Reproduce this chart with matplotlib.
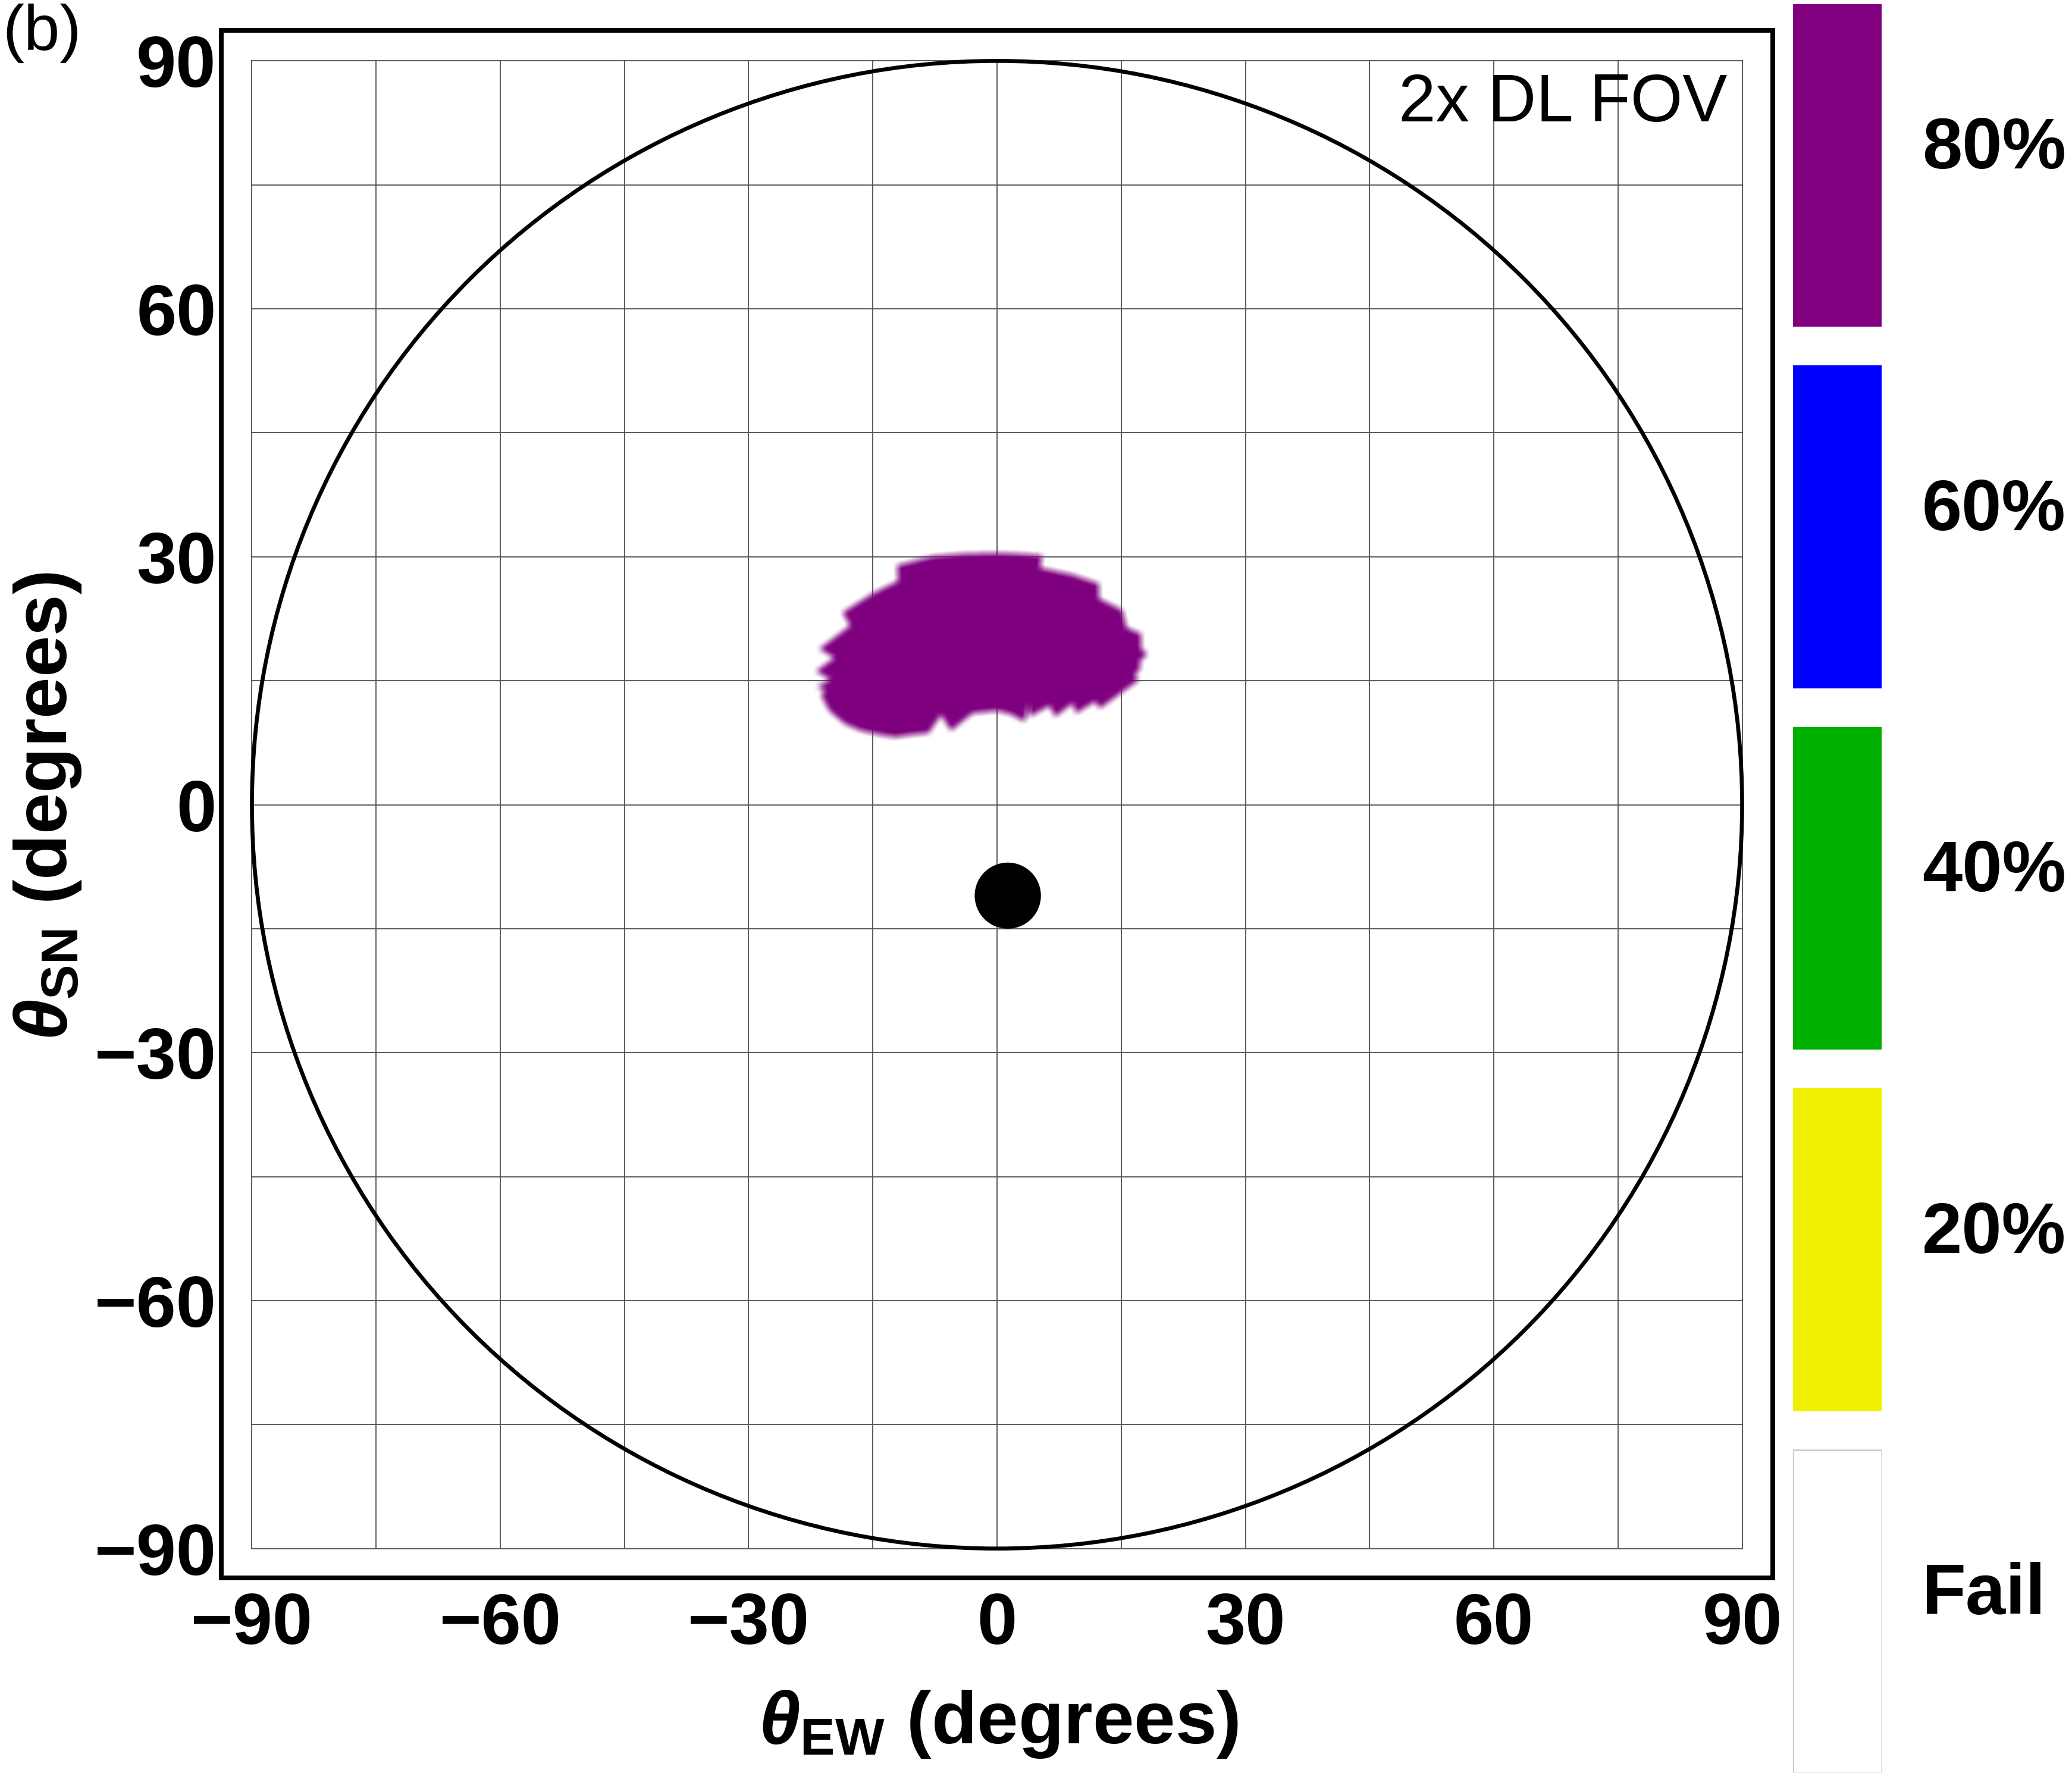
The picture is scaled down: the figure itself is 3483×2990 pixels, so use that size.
import numpy as np
import matplotlib
matplotlib.use("Agg")
import matplotlib.pyplot as plt
from matplotlib.patches import Circle
from matplotlib.path import Path

plt.rcParams['font.family'] = ['Liberation Sans', 'DejaVu Sans']
plt.rcParams['mathtext.fontset'] = 'custom'
plt.rcParams['mathtext.rm'] = 'Liberation Sans:bold'
plt.rcParams['mathtext.bf'] = 'Liberation Sans:bold'
plt.rcParams['mathtext.it'] = 'Liberation Sans:bold:italic'

# boundary of the 80 % region (degrees)
blob_x = [0.0, 2.5, 5.4, 5.2, 9.0, 12.3, 12.3, 15.1, 15.6, 17.4, 17.4, 18.1,
          17.1, 17.4, 16.6, 17.1, 15.0, 12.4, 11.8, 9.5, 9.1, 7.0, 6.3, 3.9,
          3.8, 3.3, 1.6, 0.0, -3.0, -5.6, -6.8, -8.3, -10.4, -12.3, -14.2,
          -16.5, -18.4, -20.3, -21.3, -20.8, -21.8, -20.2, -21.9, -19.7,
          -21.5, -17.8, -18.7, -14.9, -12.0, -12.1, -7.8, -4.0]
blob_y = [30.4, 30.3, 30.1, 28.6, 27.8, 26.7, 24.9, 23.5, 21.4, 20.6, 18.8, 18.2,
          17.1, 16.7, 15.5, 15.0, 13.5, 11.6, 12.4, 11.0, 12.2, 10.6, 11.9, 10.6,
          12.1, 10.0, 10.9, 11.3, 11.0, 8.9, 10.8, 8.6, 8.4, 8.1, 8.4,
          8.9, 9.7, 11.3, 13.2, 13.8, 14.2, 15.1, 16.1, 17.7,
          18.8, 21.6, 23.2, 25.6, 27.0, 28.9, 30.0, 30.3]

horizon_r = 90
sun_x, sun_y, sun_r = 1.3, -11.0, 4.0

ticks = [-90, -60, -30, 0, 30, 60, 90]
grid_vals = [-90, -75, -60, -45, -30, -15, 0, 15, 30, 45, 60, 75, 90]

key_labels = ['Fail', '20%', '40%', '60%', '80%']
key_colors = ['#FFFFFF', '#F0F000', '#00B000', '#0000FF', '#800080']

W, H = 3483, 2990
fig = plt.figure(figsize=(W / 300, H / 300), dpi=300)
ax = fig.add_axes([372 / W, 1 - 2652 / H, 2608 / W, 2601 / H])

# grid
for g in grid_vals:
    ax.plot([g, g], [-90, 90], color='#555555', lw=0.45, zorder=1)
    ax.plot([-90, 90], [g, g], color='#555555', lw=0.45, zorder=1)

# 80% region, soft edged
gx = np.arange(-25, 22, 0.05)
gy = np.arange(5, 34, 0.05)
GX, GY = np.meshgrid(gx, gy)
inside = Path(np.column_stack([blob_x, blob_y])).contains_points(
    np.column_stack([GX.ravel(), GY.ravel()])).reshape(GX.shape).astype(float)
k = np.ones(20) / 20
soft = np.apply_along_axis(lambda r: np.convolve(r, k, mode='same'), 1, inside)
soft = np.apply_along_axis(lambda c: np.convolve(c, k, mode='same'), 0, soft)
rgba = np.zeros(GX.shape + (4,))
rgba[..., 0] = 0.5
rgba[..., 2] = 0.5
rgba[..., 3] = soft
ax.imshow(rgba, extent=(gx[0], gx[-1], gy[0], gy[-1]), origin='lower',
          interpolation='bilinear', aspect='auto', zorder=2)

ax.add_patch(Circle((0, 0), horizon_r, fill=False, ec='black', lw=1.6, zorder=3))
ax.add_patch(Circle((sun_x, sun_y), sun_r, fc='black', ec='none', zorder=4))

ax.text(88.2, 82.7, '2x DL FOV', ha='right', va='baseline', fontsize=27, zorder=5)

ax.set_xlim(-93.7, 93.7)
ax.set_ylim(-93.55, 93.7)
ax.set_xticks(ticks)
ax.set_yticks(ticks)
ax.tick_params(length=0, labelsize=29)
ax.tick_params(axis='x', pad=5.5)
ax.tick_params(axis='y', pad=2)
for lab in ax.get_xticklabels() + ax.get_yticklabels():
    lab.set_fontweight('bold')
for s in ax.spines.values():
    s.set_linewidth(1.9)

ax.set_xlabel(r'$\theta_{\mathrm{EW}}$ (degrees)', fontsize=30, fontweight='bold',
              ha='center', va='center')
ax.xaxis.set_label_coords(0.5008, -0.0944)
ax.set_ylabel(r'$\theta_{\mathrm{SN}}$ (degrees)', fontsize=30, fontweight='bold',
              ha='center', va='center')
ax.yaxis.set_label_coords(-0.112, 0.4987)

fig.text(4 / W, 1 - 84 / H, '(b)', fontsize=26, ha='left', va='baseline')

# colour key
cax = fig.add_axes([3014 / W, 11 / H, 149 / W, 2972 / H])
cax.bar(0.5, 0.893, width=1, bottom=range(len(key_labels)), color=key_colors,
        edgecolor=['#c8c8c8', 'none', 'none', 'none', 'none'], linewidth=0.6)
cax.set_xlim(0, 1)
cax.set_ylim(0, 4.893)
cax.axis('off')
for i, lab in enumerate(key_labels):
    cax.text(1.456, i + 0.438, lab, transform=cax.get_yaxis_transform(),
             ha='left', va='baseline', fontsize=29, fontweight='bold')

fig.savefig('out.png', dpi=300)
